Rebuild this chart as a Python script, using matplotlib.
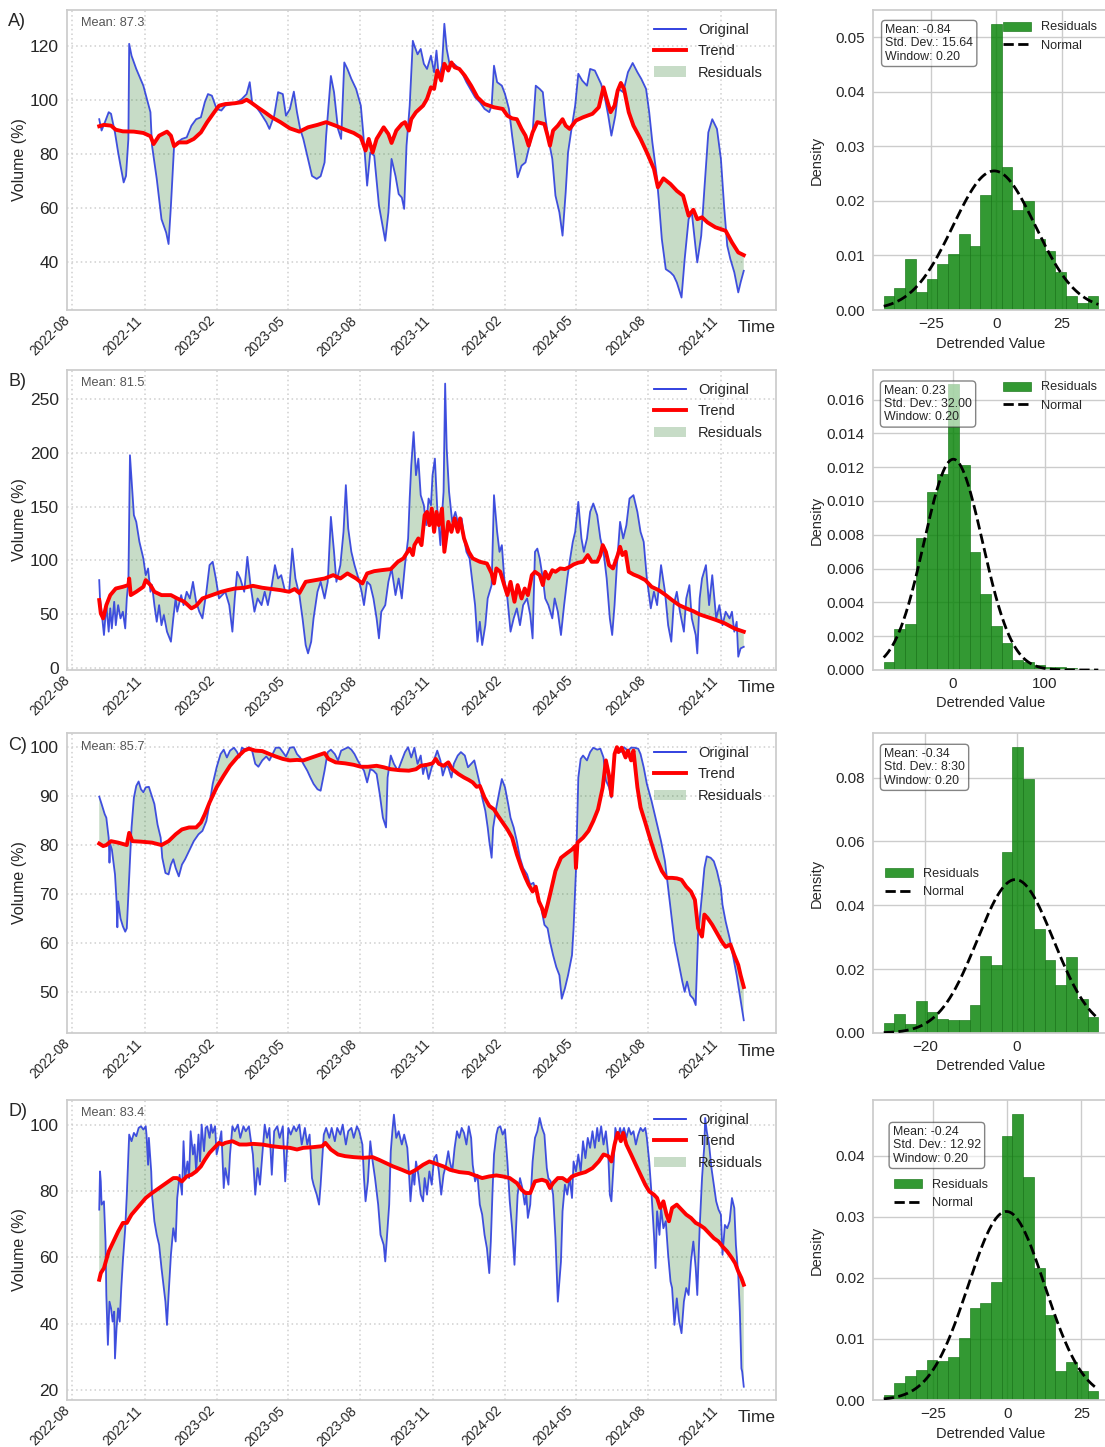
import numpy as np
import matplotlib
matplotlib.use("Agg")
import matplotlib.pyplot as plt
import matplotlib.dates as mdates
from matplotlib.patches import Patch
from matplotlib.lines import Line2D

# day offset from START, volume (%)
START = np.datetime64("2022-09-04")

a_orig = [(0,93),(3,88.8),(8,92.5),(12,95.6),(15,95),(20,88),(24,80.7),(27,75.8),(31,69.6),(34,72),(37,85.7),(38,120.9),(41,116.5),(47,111.6),(56,105.4),(65,95.6),(67,83.2),(73,70.9),(79,56),(85,51),(88,46.8),(91,61),(95,83),(99,84.4),(105,85.7),(111,86.3),(117,90.6),(123,93),(129,93.7),(134,99.3),(138,102.3),(143,101.7),(149,96.8),(155,96.2),(160,98),(169,98.6),(175,99.3),(181,100.5),(187,102.3),(191,106.7),(194,99.3),(198,98),(204,95.6),(212,91.9),(216,89.4),(222,94.3),(227,103),(233,102.3),(237,94.3),(242,96.8),(247,103.2),(251,95.6),(255,89.4),(259,85.7),(265,78.3),(270,72),(276,70.9),(281,71.9),(286,77),(288,86.9),(294,109),(298,103),(303,89.4),(307,85.7),(311,114),(315,111.6),(320,107.9),(326,104.2),(332,98),(335,88.1),(340,68.4),(344,80.7),(349,79.5),(355,61),(363,48),(367,58.5),(371,78.3),(376,72),(380,65.3),(384,64),(387,59.8),(390,83.2),(394,98),(398,122),(400,120.2),(404,117),(408,119),(412,113.5),(416,111.6),(421,116.5),(425,110.4),(428,118.4),(431,108.5),(435,112.8),(438,128.3),(441,119),(445,112.8),(450,113.5),(455,112.2),(460,110.4),(466,106.7),(472,103.6),(477,101.1),(483,99.3),(489,96.8),(495,95.6),(498,98),(501,112.8),(505,106.7),(511,105.4),(515,102.3),(520,96.8),(524,86.9),(528,78.3),(531,71.5),(536,75.8),(541,77),(545,82),(550,88.1),(554,105.4),(559,104.2),(563,103),(566,94.3),(570,85.7),(575,78.3),(579,64.7),(584,58.5),(588,49.9),(592,66),(595,80.7),(600,90.6),(604,98),(608,109.8),(613,107.3),(619,105.4),(623,111.6),(629,111),(633,108.5),(637,106),(642,100.5),(646,94.3),(650,86.9),(655,94.3),(659,104.2),(665,103),(671,110.4),(677,113.8),(683,110.4),(688,107.9),(694,104.2),(698,95.6),(702,84.4),(707,73.3),(710,63.5),(714,48.6),(719,37.5),(725,36.3),(729,35.1),(733,32.6),(739,27),(743,41.2),(748,56),(752,58.5),(757,45),(759,40),(764,49.9),(768,67.2),(773,88.1),(778,93),(784,89.4),(789,78.3),(793,61),(797,46.2),(801,41.2),(806,36.3),(811,28.9),(814,32.6),(818,36.9)]
a_trend = [(0,90.4),(6,90.9),(15,90.6),(21,89.1),(30,88.5),(44,88.4),(56,87.9),(65,86.7),(69,83.8),(76,86.9),(86,88.4),(91,86.9),(95,83),(101,84.4),(111,84.4),(120,85.7),(129,88.1),(137,91.9),(146,95.6),(152,98),(160,98.6),(172,98.9),(181,99.3),(187,100.2),(192,99.3),(201,97.4),(210,95.6),(219,93.7),(230,91.9),(242,89.6),(254,88.4),(265,90),(277,90.9),(288,91.9),(300,90.6),(312,89.1),(323,87.9),(332,86.3),(338,81.4),(342,85.7),(347,80.7),(352,85.7),(361,90),(367,87.5),(371,84.2),(377,88.8),(384,91.2),(388,91.9),(393,88.8),(396,93),(402,95.6),(411,98),(416,100.5),(421,104.8),(425,104.2),(429,111),(434,107.3),(438,113.5),(443,111),(447,114),(451,112.2),(457,111.6),(464,109.1),(472,105.4),(480,101.1),(489,98.6),(501,97.4),(512,96.8),(518,94.3),(524,93.3),(530,93),(536,89.4),(541,86.9),(545,83.2),(550,88.1),(556,91.9),(565,91.2),(569,86.9),(572,83.2),(576,88.8),(582,90.6),(588,93),(592,90.6),(597,89.4),(605,92.5),(614,93.7),(626,95),(634,97.4),(640,104.8),(644,100.5),(649,95.6),(654,98),(658,103.6),(662,106.4),(666,104.2),(672,95.6),(678,90.6),(687,85.7),(695,80.7),(704,74.6),(709,67.8),(716,71.1),(725,69),(733,66.5),(741,64.7),(748,57.3),(754,59.5),(759,56),(765,56.7),(772,54.8),(782,53),(791,52.1),(795,51.7),(803,47.4),(811,43.7),(818,42.7)]

b_orig = [(0,81.8),(1,64.8),(3,52.5),(6,30.9),(9,58.6),(12,34),(14,55.6),(16,37),(19,61.7),(21,40),(24,58.6),(27,46.3),(30,52.5),(33,37),(35,64.8),(37,80.2),(39,197.5),(41,175.9),(44,142),(47,135.8),(51,117.3),(56,101.9),(59,86.4),(62,92.6),(65,71),(67,77.2),(70,58.6),(73,43.2),(76,58.6),(79,40),(82,49.4),(86,34),(91,24.7),(94,46.3),(97,64.8),(99,52.5),(104,67.9),(107,58.6),(111,71),(115,64.8),(119,80.2),(123,61.7),(127,52.5),(131,46.3),(136,71),(140,95.7),(144,98.8),(148,83.3),(152,64.8),(156,67.9),(160,71),(165,58.6),(169,34),(172,64.8),(175,89.5),(179,83.3),(184,71),(188,103.4),(192,77.2),(197,52.5),(201,64.8),(206,58.6),(210,71),(214,58.6),(219,77.2),(223,95.7),(227,83.3),(231,86.4),(236,71),(241,71),(245,111),(249,83.3),(254,67.9),(258,46.3),(262,21.6),(265,13.9),(269,24.7),(272,46.3),(277,71),(281,80.2),(286,64.8),(290,80.2),(294,140.4),(298,108),(301,80.2),(306,95.7),(310,126.5),(313,169.8),(316,129.6),(320,108),(324,95.7),(329,83.3),(333,71),(336,58.6),(340,80.2),(344,77.2),(348,64.8),(352,46.3),(355,27.8),(358,52.5),(363,58.6),(367,80.2),(371,92.6),(376,67.9),(380,83.3),(384,64.8),(388,95.7),(392,120.4),(394,157.4),(396,188.3),(399,219),(402,179),(405,194.4),(408,160.5),(412,151.2),(415,132.7),(418,157.4),(421,151.2),(423,179),(426,194.4),(429,148.1),(433,114.2),(435,142),(437,163.6),(439,263.9),(441,203.7),(444,163.6),(448,135.8),(452,145),(456,132.7),(460,139),(463,120.4),(466,108),(470,101.9),(473,83.3),(477,58.6),(480,24.7),(483,43.2),(486,21.6),(490,40),(493,64.8),(498,77.2),(501,160.5),(505,126.5),(508,108),(511,114.2),(514,83.3),(518,64.8),(522,34),(526,46.3),(530,55.6),(534,40),(538,58.6),(543,64.8),(547,49.4),(550,27.8),(553,108),(556,111),(559,101.9),(563,83.3),(566,64.8),(570,58.6),(575,46.3),(578,64.8),(582,52.5),(586,30.9),(590,58.6),(594,83.3),(597,98.8),(601,117.3),(604,126.5),(608,154.3),(612,120.4),(615,108),(619,120.4),(623,145),(627,152.8),(632,142),(636,120.4),(640,108),(644,83.3),(648,46.3),(651,30.9),(654,58.6),(657,95.7),(661,135.8),(665,120.4),(669,132.7),(673,157.4),(678,160.5),(683,145),(687,126.5),(691,117.3),(695,83.3),(700,55.6),(704,71),(708,58.6),(713,95.7),(718,71),(722,40),(726,24.7),(729,58.6),(733,71),(737,52.5),(742,34),(745,64.8),(749,77.2),(752,46.3),(757,30.9),(759,13.9),(762,64.8),(765,83.3),(770,95.7),(774,58.6),(778,86.4),(783,46.3),(787,58.6),(791,40),(795,52.5),(800,46.3),(803,52.5),(806,34),(809,43.2),(811,10.8),(814,18.5),(818,20)]
b_trend = [(0,63.3),(2,50.9),(5,46.3),(9,58.6),(14,67.9),(21,74),(30,75.6),(37,77.2),(38,83.3),(40,67.9),(47,71),(56,75.6),(59,81.8),(65,77.2),(70,71),(79,67.9),(91,67.9),(99,64.8),(108,61.7),(117,55.6),(123,58),(131,64.8),(143,67.9),(155,71),(163,72.5),(172,74),(184,74.7),(195,76.5),(207,74.7),(219,73.5),(230,72.5),(241,71),(248,73.5),(254,69.8),(262,80.2),(274,81.8),(286,83.3),(297,86.4),(306,83.3),(315,88),(326,83.3),(334,78.7),(340,88),(349,90.1),(358,91),(370,92),(379,98.8),(386,101.9),(390,106.5),(394,111),(398,105),(400,114.2),(405,120.4),(409,114.2),(413,142),(416,145),(419,132.7),(422,148.1),(425,126.5),(428,145),(431,132.7),(435,148.1),(438,108),(443,135.8),(447,126.5),(451,139),(455,126.5),(458,139),(463,120.4),(469,108),(474,101.9),(483,98.8),(492,97.2),(498,88),(501,78.7),(504,92.6),(509,89.5),(514,77.2),(518,67.9),(522,80.2),(527,61.7),(531,77.2),(536,64.8),(540,74),(544,67.9),(549,86.4),(553,89.5),(559,86.4),(563,77.2),(566,89.5),(570,83.3),(575,91),(579,89.5),(585,92.6),(591,92),(597,94),(602,96.3),(608,98),(614,98.8),(620,105),(625,98.8),(632,98.8),(636,105),(639,114.2),(643,108),(647,95.7),(652,92.6),(658,105),(661,112.7),(664,105),(668,108),(672,89.5),(678,87),(685,84.9),(693,81.8),(701,75.6),(710,72.5),(719,67.9),(727,63.3),(736,58.6),(745,55.6),(754,53),(762,50),(771,47.8),(783,44.8),(794,41.7),(806,37),(818,34)]

c_orig = [(0,89.9),(3,88.4),(7,86.3),(9,85.6),(12,81.5),(13,76.4),(14,80.1),(16,79.1),(20,74),(22,68.5),(23,63.2),(24,68.5),(27,65),(30,63.4),(33,62.3),(35,63),(38,73.3),(41,83.6),(44,89.7),(47,92.1),(50,93),(53,91.4),(56,90.8),(59,91.8),(63,91.9),(66,90.4),(70,88.4),(74,84.2),(78,81.5),(80,77.4),(84,74.3),(88,74),(91,76),(94,77.1),(97,75.3),(101,73.6),(105,76),(109,77.1),(114,78.8),(120,80.8),(126,82.2),(131,82.9),(136,84.9),(140,88.4),(144,92.5),(149,95.9),(154,98.6),(158,99.5),(162,97.9),(166,99.3),(171,99.9),(175,99),(178,97.9),(181,99.9),(186,99.5),(190,100),(194,99.3),(198,96.6),(202,96),(207,97.3),(212,98.1),(216,97.3),(220,98.6),(224,99.9),(229,99.9),(233,99),(237,98.1),(242,99.9),(247,100),(251,98.6),(255,97.9),(259,96.6),(264,95.2),(268,93.8),(272,92.5),(277,91.4),(281,91.1),(286,95.2),(290,99),(294,99.5),(299,98.6),(303,97.3),(307,99.3),(312,99.7),(316,100),(320,99.5),(324,98.6),(328,97.3),(332,96.2),(336,95.2),(340,92.8),(344,95.5),(348,95.2),(352,94.5),(356,90.4),(360,85.6),(364,83.6),(366,93.8),(370,98.3),(374,96.6),(379,95.2),(384,97.3),(388,99),(392,100),(396,97.9),(400,99.9),(404,96.6),(408,98.3),(411,94.5),(414,96.6),(418,93.5),(422,95.9),(426,97.9),(429,99.3),(433,97.3),(436,94.2),(440,96.2),(443,95.9),(447,93.8),(450,96.6),(455,98.3),(459,99),(464,98.3),(468,95.9),(472,96.6),(476,97.3),(479,95.2),(483,92.5),(486,89.7),(490,87),(493,83.6),(495,80.8),(498,77.4),(500,83.6),(504,87.7),(508,91.1),(511,93.5),(515,91.8),(519,88.4),(522,85.6),(526,83.6),(530,80.8),(534,77.4),(538,75.3),(543,74),(547,71.9),(551,72.3),(556,69.9),(561,67.1),(565,63.7),(569,63),(572,60.3),(576,57.5),(580,55.1),(584,53.4),(587,48.6),(591,50.7),(595,53.4),(600,57.5),(602,63),(605,74.7),(608,93.8),(611,97.6),(614,98.3),(619,97.3),(623,99),(627,99.9),(632,99.5),(636,99.7),(640,97.9),(643,93.2),(647,91.8),(650,89.7),(654,98.6),(658,99.9),(662,99),(666,100),(671,99.3),(675,99.9),(679,99.9),(684,99.7),(687,98.6),(691,95.9),(695,92.5),(701,89),(707,84.9),(713,80.8),(718,76.7),(722,71.2),(726,65.8),(730,60.3),(735,56.2),(740,52.1),(743,50),(746,52.1),(750,49.3),(754,48.6),(757,47.3),(760,61.6),(765,69.9),(768,75.3),(771,77.7),(776,77.4),(780,76.7),(784,74.7),(789,71.2),(791,67.8),(795,64.4),(800,61),(805,56.8),(809,53.4),(813,49.3),(818,44.2)]
c_trend = [(0,80.3),(5,79.8),(9,80),(15,80.8),(24,80.5),(35,80),(38,82.5),(42,80.8),(53,80.7),(67,80.5),(79,80),(88,80.8),(97,82.2),(105,83.2),(114,83.6),(123,83.6),(129,84.6),(134,86.3),(140,88.7),(149,91.8),(158,94.2),(166,96.2),(175,97.9),(184,99.3),(190,99.7),(198,99.3),(207,99.2),(216,98.6),(224,98.1),(233,97.6),(242,97.3),(251,97.4),(259,97.3),(268,97.8),(277,98.3),(286,98.8),(291,97.6),(300,96.9),(312,96.7),(323,96.4),(332,96),(341,96),(352,96.2),(361,95.9),(370,95.5),(381,95.3),(393,95.2),(402,95.5),(408,96.2),(416,96.4),(423,96.7),(427,97.6),(431,96.6),(437,96.2),(443,96.9),(448,95.5),(456,94.5),(463,93.8),(469,93.3),(474,92.8),(479,91.9),(483,92.1),(489,89.7),(495,88),(501,87.3),(506,86),(512,84.6),(518,83.2),(524,81.5),(530,78.1),(536,75.3),(541,73.3),(545,71.9),(550,70.5),(554,71.5),(558,68.5),(562,67.1),(565,65.4),(569,67.8),(573,70.5),(579,74.7),(586,77.4),(594,78.4),(600,79.1),(604,79.8),(605,75.3),(607,80.5),(614,81.5),(621,82.9),(627,84.9),(633,87.3),(639,91.8),(643,97.3),(647,94.2),(650,90.1),(654,98.6),(657,100),(659,99),(663,99.9),(668,97.9),(671,99.3),(675,97.3),(678,99.3),(683,91.8),(687,87.7),(693,84.6),(700,80.8),(707,77.4),(714,74.7),(720,73.3),(727,73.3),(733,73.2),(739,72.9),(745,71.5),(751,70.5),(756,68.8),(760,63),(765,61.3),(768,65.8),(772,65.1),(778,63.7),(784,62),(790,60.3),(795,59.2),(801,59.7),(806,57.5),(811,55.5),(814,53.4),(818,51)]

d_orig = [(0,74.4),(1,85.9),(2,82.9),(3,75.9),(6,76.9),(8,64.8),(9,48.7),(11,33.7),(13,46.7),(15,44.7),(17,40.7),(19,43.7),(20,29.6),(22,38.7),(24,44.7),(26,40.7),(28,50.8),(30,58.8),(33,68.8),(35,78.9),(37,91),(38,97),(41,95),(44,97.5),(47,96.5),(50,99),(53,99.5),(56,98.5),(59,99.5),(60,97),(62,87.9),(63,96),(66,85.9),(67,78.9),(70,70.9),(73,66.8),(76,63.8),(79,56.8),(82,50.8),(84,46.7),(86,39.7),(88,48.7),(91,60.8),(94,68.8),(97,64.8),(99,77.9),(102,84.9),(105,78.9),(107,95),(109,83.9),(112,88.9),(114,83.9),(116,98),(119,91),(121,94),(123,85.9),(126,97),(128,88.9),(130,100),(133,92),(135,99),(137,99.5),(140,96),(142,100),(144,97.5),(147,99.5),(149,91),(152,94),(155,98),(158,80.9),(160,86.9),(164,81.9),(166,91),(169,99.5),(172,98),(176,100),(179,96),(183,99.5),(186,98),(190,99.5),(192,96),(195,91),(198,78.9),(201,86.9),(204,81.9),(207,91),(210,100),(213,96),(216,99),(219,84.9),(222,98),(226,99.5),(229,96),(233,99.5),(236,82.9),(240,99),(243,97),(247,99.5),(250,98),(254,100),(257,94),(261,99),(264,94),(267,97),(270,83.9),(272,81.9),(276,78.9),(279,75.9),(281,81.9),(285,97),(288,99),(292,96),(295,99),(299,95),(302,99),(306,97),(309,100),(313,94),(316,98),(320,99),(323,96),(327,99.5),(330,98),(334,94),(336,83.9),(338,76.9),(341,82.9),(344,95),(347,88.9),(350,83.9),(354,75.9),(357,66.8),(361,63.8),(363,58.8),(365,65.8),(368,75.9),(370,92),(372,98),(374,103),(377,96),(380,98),(384,94),(387,97),(391,93),(393,85.9),(395,76.9),(398,85.9),(400,81.9),(402,88.9),(405,84.9),(408,78.9),(411,76.9),(413,83.9),(416,78.9),(419,85.9),(422,81.9),(425,89.9),(428,90.9),(431,85.9),(434,78.9),(437,84.9),(440,87.9),(443,92),(445,88.9),(448,85.9),(451,93),(454,98),(457,96),(460,99),(463,97.5),(466,94),(469,99.5),(472,96),(474,87.9),(477,82.9),(480,84.9),(483,75.9),(486,72.9),(489,66.8),(492,62.8),(495,55.3),(497,64.8),(499,78.9),(501,91),(504,97),(506,99),(509,99.5),(512,97),(515,98.5),(518,88.9),(521,76.9),(524,68.8),(527,57.8),(529,68.8),(531,78.9),(534,83.9),(537,80.9),(540,75.9),(542,78.9),(544,71.9),(547,75.9),(550,88.9),(553,96),(556,98),(559,102),(562,99),(565,97),(568,86.9),(570,83.9),(573,82.9),(576,78.9),(579,65.8),(582,46.7),(584,52.8),(586,58.8),(588,73.9),(591,81.9),(594,78.9),(597,83.9),(600,77.9),(602,88.9),(605,85.9),(608,91),(611,85.9),(614,95),(617,89.9),(620,96),(623,93),(626,98),(629,93),(632,99),(634,95),(637,99.5),(640,94),(643,98),(646,91),(648,78.9),(650,76.9),(653,88.9),(655,99),(658,96),(661,99),(663,97),(666,99),(669,96),(672,99),(675,97),(678,98),(681,94),(684,97),(687,99),(690,98),(693,99),(695,96),(698,88.9),(701,78.9),(704,66.8),(706,56.8),(708,73.9),(711,66.8),(713,74.9),(716,68.8),(719,70.9),(722,60.8),(725,52.8),(727,50.8),(730,39.7),(733,47.7),(736,40.7),(739,37.2),(742,46.7),(745,50.8),(748,48.7),(751,58.8),(754,64.8),(757,56.8),(759,48.7),(762,68.8),(765,83.9),(768,94),(769,102),(771,98),(774,94),(777,86.9),(780,81.9),(783,76.9),(786,74.4),(789,72.9),(791,60.8),(794,69.8),(797,68.8),(800,70.9),(803,77.9),(806,74.9),(808,63.8),(811,54.8),(813,43.7),(815,26.6),(816,25.6),(818,21.1)]
d_trend = [(0,53.3),(2,55.3),(6,56.8),(12,61.8),(18,64.8),(24,67.8),(30,70.4),(35,70.4),(41,72.9),(50,75.4),(59,77.9),(67,79.4),(76,80.9),(85,82.4),(94,83.9),(99,83.9),(105,82.9),(111,84.4),(117,84.9),(123,85.9),(129,87.4),(134,89.4),(140,91.5),(146,93),(152,94.5),(156,94),(160,94.5),(169,95),(178,94),(187,94),(195,94.2),(207,94),(219,93.5),(230,93.2),(242,93),(251,92.5),(259,93),(271,93.2),(283,93.5),(287,94.5),(294,92.5),(303,91),(312,90.5),(323,90.2),(335,90),(347,90.2),(355,89.4),(364,88.4),(373,87.4),(384,86.4),(394,85.4),(402,86.4),(411,87.9),(419,88.9),(425,88.4),(431,87.9),(437,87.4),(445,86.4),(457,85.7),(469,85.4),(477,84.7),(486,83.9),(495,84.4),(504,84.7),(512,84.4),(521,83.9),(530,82.4),(536,80.4),(541,79.4),(547,79.4),(553,82.9),(562,83.4),(568,82.9),(572,80.9),(576,82.4),(582,83.9),(588,83.9),(594,82.9),(600,84.4),(608,85.1),(617,85.7),(626,86.9),(634,88.9),(640,91),(646,90.5),(650,88.9),(654,94),(658,97.5),(662,95),(665,97.5),(669,94),(675,91),(681,87.9),(687,84.9),(693,81.9),(698,79.9),(704,78.9),(708,77.9),(712,74.9),(716,76.9),(720,72.9),(723,70.9),(727,74.9),(733,75.9),(739,74.4),(745,72.9),(751,71.9),(757,70.4),(762,69.8),(768,68.8),(774,67.3),(780,65.8),(786,64.8),(791,63.3),(797,61.8),(803,59.8),(807,58.3),(811,55.8),(815,53.8),(818,51.8)]

# residual histograms: span of the 20 bins and their densities
a_span = (-42.9, 38.8)
a_dens = [0.0026,0.0040,0.0093,0.0033,0.0057,0.0084,0.0102,0.0139,0.0118,0.0211,0.0524,0.0263,0.0183,0.0199,0.0131,0.0108,0.0070,0.0026,0.0013,0.0026]
b_span = (-75.8, 158.6)
b_dens = [0.0005,0.0024,0.0027,0.0078,0.0105,0.0116,0.0169,0.0121,0.0070,0.0045,0.0026,0.0016,0.0006,0.0005,0.0003,0.0002,0.0002,0.0001,0.00005,0.00005]
c_span = (-29.0, 17.7)
c_dens = [0.0031,0.0060,0.0028,0.0099,0.0066,0.0044,0.0040,0.0042,0.0087,0.0240,0.0212,0.0567,0.0895,0.0795,0.0326,0.0229,0.0150,0.0238,0.0106,0.0049]
d_span = (-41.6, 30.7)
d_dens = [0.0008,0.0028,0.0040,0.0049,0.0065,0.0064,0.0071,0.0102,0.0150,0.0159,0.0193,0.0433,0.0468,0.0366,0.0217,0.0140,0.0048,0.0063,0.0048,0.0015]

series_means = [87.3, 81.5, 85.7, 83.4]
resid_mean = [-0.84, 0.23, -0.34, -0.24]
resid_std = [15.64, 32.00, 8.30, 12.92]
resid_std_text = ["15.64", "32.00", "8:30", "12.92"]

plt.rcParams.update({
    "font.family": ["Liberation Sans", "DejaVu Sans"],
    "axes.edgecolor": "#cccccc",
    "axes.linewidth": 1.25,
    "xtick.major.size": 0,
    "ytick.major.size": 0,
    "xtick.major.pad": 2.5,
    "ytick.major.pad": 6,
    "text.color": "#262626",
    "axes.labelcolor": "#262626",
    "xtick.color": "#262626",
    "ytick.color": "#262626",
})

fig = plt.figure(figsize=(11.05, 14.47), dpi=100)

rows = [
    dict(tag="A)", orig=a_orig, trend=a_trend, span=a_span, dens=a_dens,
         ylim=(22.4, 133.4), yt=[40, 60, 80, 100, 120], hx=[-25, 0, 25],
         hy=np.arange(0, 0.051, 0.01), hfmt="%.2f", box=(0.04, 0.965),
         leg=dict(loc="upper right")),
    dict(tag="B)", orig=b_orig, trend=b_trend, span=b_span, dens=b_dens,
         ylim=(-1.5, 276.5), yt=[0, 50, 100, 150, 200, 250], hx=[0, 100],
         hy=np.arange(0, 0.0161, 0.002), hfmt="%.3f", box=(0.035, 0.963),
         leg=dict(loc="upper right")),
    dict(tag="C)", orig=c_orig, trend=c_trend, span=c_span, dens=c_dens,
         ylim=(41.6, 102.9), yt=[50, 60, 70, 80, 90, 100], hx=[-20, 0],
         hy=np.arange(0, 0.081, 0.02), hfmt="%.2f", box=(0.035, 0.962),
         leg=dict(loc="center left")),
    dict(tag="D)", orig=d_orig, trend=d_trend, span=d_span, dens=d_dens,
         ylim=(17.1, 107.4), yt=[20, 40, 60, 80, 100], hx=[-25, 0, 25],
         hy=np.arange(0, 0.041, 0.01), hfmt="%.2f", box=(0.072, 0.925),
         leg=dict(loc="upper left", bbox_to_anchor=(0.04, 0.775))),
]

bottoms_px = [310, 670, 1033, 1400]
W, H = 1105.0, 1447.0

for i, r in enumerate(rows):
    y0 = 1 - bottoms_px[i] / H
    ax = fig.add_axes([67 / W, y0, 709 / W, 300 / H])
    hx_ax = fig.add_axes([873 / W, y0, 236 / W, 300 / H])

    od = START + np.array([p[0] for p in r["orig"]]).astype("timedelta64[D]")
    ov = np.array([p[1] for p in r["orig"]])
    td = START + np.array([p[0] for p in r["trend"]]).astype("timedelta64[D]")
    tv = np.array([p[1] for p in r["trend"]])

    # shaded area between the raw series and the trend
    ax.fill(np.concatenate([od, td[::-1]]), np.concatenate([ov, tv[::-1]]),
            color="darkgreen", alpha=0.22, lw=0, zorder=1)
    ax.plot(od, ov, color="#2233dd", lw=1.3, alpha=0.85, zorder=2)
    ax.plot(td, tv, color="red", lw=2.8, zorder=3)

    ax.set_ylim(*r["ylim"])
    ax.set_yticks(r["yt"])
    ax.xaxis.set_major_locator(mdates.MonthLocator(bymonth=[2, 5, 8, 11]))
    ax.xaxis.set_major_formatter(mdates.DateFormatter("%Y-%m"))
    for lab in ax.get_xticklabels():
        lab.set_rotation(45)
        lab.set_ha("right")
        lab.set_fontsize(9.8)
    ax.tick_params(axis="y", labelsize=12.5)
    ax.grid(True, linestyle=(0, (1, 2)), color="#cfcfcf", lw=1.1)
    ax.set_axisbelow(True)
    ax.set_ylabel("Volume (%)", fontsize=11.5)
    ax.yaxis.set_label_coords(-0.057, 0.5)
    ax.set_xlabel("Time", fontsize=12.5, loc="right")
    ax.xaxis.set_label_coords(1.0, -0.035)
    ax.text(0.02, 0.975, "Mean: %.1f" % series_means[i], transform=ax.transAxes,
            fontsize=9.2, color="#555555", va="top", ha="left")
    handles = [Line2D([], [], color="#2233dd", lw=1.3),
               Line2D([], [], color="red", lw=2.8),
               Patch(facecolor="darkgreen", alpha=0.22, lw=0)]
    ax.legend(handles, ["Original", "Trend", "Residuals"], loc="upper right",
              fontsize=10.5, frameon=False, handlelength=2.2)
    fig.text(8 / W, 1 - (bottoms_px[i] - 288) / H, r["tag"], fontsize=13,
             ha="left", va="center")

    # histogram of detrended values with fitted normal curve
    lo, hi = r["span"]
    edges = np.linspace(lo, hi, len(r["dens"]) + 1)
    bars = hx_ax.bar(edges[:-1], r["dens"], width=np.diff(edges), align="edge",
                     color="green", alpha=0.8, edgecolor="#1f7a1f", lw=0.6,
                     zorder=2)
    xs = np.linspace(lo, hi, 300)
    mu, sd = resid_mean[i], resid_std[i]
    pdf = np.exp(-0.5 * ((xs - mu) / sd) ** 2) / (sd * np.sqrt(2 * np.pi))
    curve, = hx_ax.plot(xs, pdf, "k--", lw=2, zorder=3)
    hx_ax.set_xticks(r["hx"])
    hx_ax.set_yticks(r["hy"])
    hx_ax.yaxis.set_major_formatter(matplotlib.ticker.FormatStrFormatter(r["hfmt"]))
    hx_ax.tick_params(labelsize=11)
    hx_ax.tick_params(axis="x", pad=5)
    hx_ax.grid(True, color="#cccccc", lw=1.0)
    hx_ax.set_axisbelow(True)
    hx_ax.set_xlabel("Detrended Value", fontsize=10.5)
    hx_ax.set_ylabel("Density", fontsize=10.5)
    hx_ax.yaxis.set_label_coords(-0.21, 0.5)
    hx_ax.text(r["box"][0] + 0.012, r["box"][1] - 0.012,
               "Mean: %.2f\nStd. Dev.: %s\nWindow: 0.20" % (resid_mean[i], resid_std_text[i]),
               transform=hx_ax.transAxes, fontsize=8.9, va="top", ha="left",
               linespacing=1.15, zorder=5,
               bbox=dict(boxstyle="round,pad=0.3", fc="white", ec="#333333",
                         lw=1.0, alpha=0.6))
    hx_ax.legend([bars, curve], ["Residuals", "Normal"], fontsize=9.2,
                 frameon=False, handlelength=2.2, **r["leg"])

fig.savefig("out.png", dpi=100)
